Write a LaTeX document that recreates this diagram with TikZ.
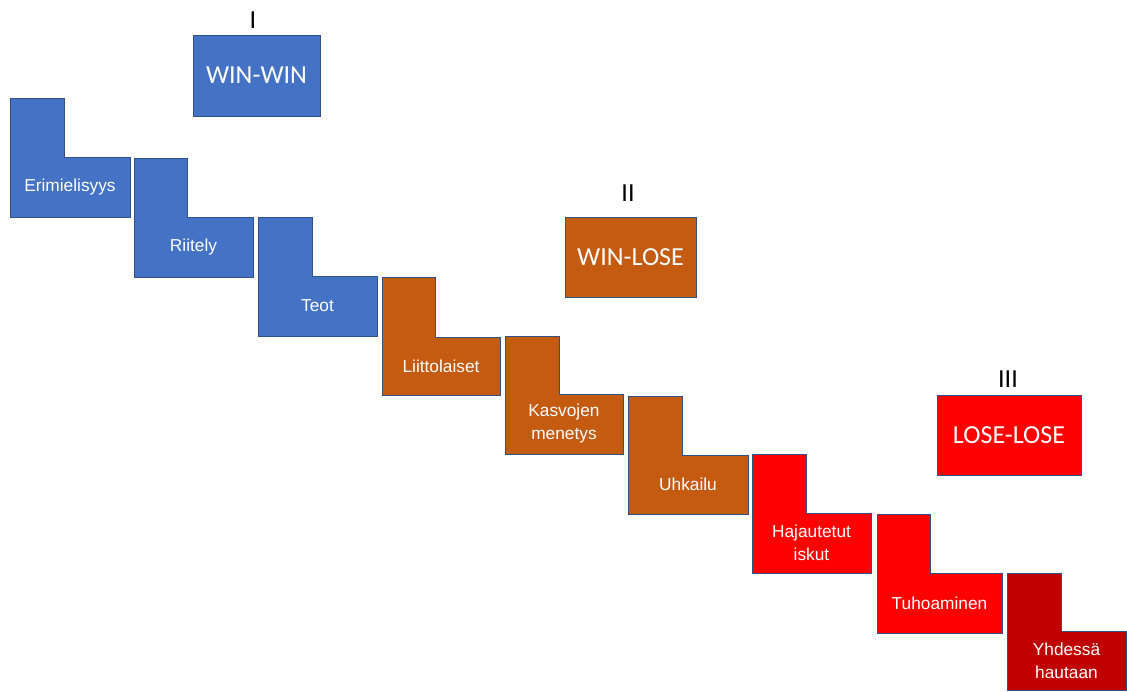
\documentclass[tikz,border=0pt]{standalone}
\usepackage{fontspec}
\setmainfont{Liberation Sans}
\newfontfamily\calibri{Carlito}
\definecolor{cblue}{HTML}{4472C4}
\definecolor{corange}{HTML}{C55A11}
\definecolor{cred}{HTML}{FF0000}
\definecolor{cdred}{HTML}{C00000}
\definecolor{cedge}{HTML}{2F528F}
\tikzset{
  steplabel/.style={text=white, font=\fontsize{17.3}{23}\selectfont, align=center, inner sep=0pt},
  outcome/.style={draw=cedge, line width=0.8pt, text=white, font=\calibri\fontsize{26}{30}\selectfont, inner sep=0pt},
  roman/.style={text=black, font=\calibri\fontsize{26}{30}\selectfont, inner sep=0pt},
  lshape/.style={draw=cedge, line width=0.8pt}
}
% name, left, top, right, bottom, notchx, notchy, colour, text
\newcommand\Lstep[9]{%
  \path[lshape, fill=#8] (#2,#3) -- (#6,#3) -- (#6,#7) -- (#4,#7) -- (#4,#5) -- (#2,#5) -- cycle;
  \node[steplabel] (#1) at ({(#2+#4)/2},{(#7+#5)/2}) {#9};
}
\begin{document}
\begin{tikzpicture}[x=1pt, y=-1pt]
\useasboundingbox (0,0) rectangle (1127,691);
\Lstep{s1}{10}{98}{130}{217}{64}{157}{cblue}{Erimielisyys}
\Lstep{s2}{134}{158}{253}{277}{187}{217}{cblue}{Riitely}
\Lstep{s3}{258}{217}{377}{336}{312}{276}{cblue}{Teot}
\Lstep{s4}{382}{277}{500}{395}{435}{337}{corange}{Liittolaiset}
\Lstep{s5}{505}{336}{623}{454}{559}{394}{corange}{Kasvojen\\menetys}
\Lstep{s6}{628}{396}{748}{514}{682}{455}{corange}{Uhkailu}
\Lstep{s7}{752}{454}{871}{573}{806}{513}{cred}{Hajautetut\\iskut}
\Lstep{s8}{877}{514}{1002}{633}{930}{573}{cred}{Tuhoaminen}
\Lstep{s9}{1007}{573}{1126}{690}{1061}{631}{cdred}{Yhdessä\\hautaan}

\node[outcome, fill=cblue, minimum width=127pt, minimum height=81pt] (ww) at (256.5,75.5) {WIN-WIN};
\node[outcome, fill=corange, minimum width=131pt, minimum height=80pt] (wl) at (630.5,257) {WIN-LOSE};
\node[outcome, fill=cred, minimum width=144pt, minimum height=80pt] (ll) at (1009,435) {LOSE-LOSE};

\node[roman] (r1) at (253,20) {I};
\node[roman] (r2) at (628,193) {II};
\node[roman] (r3) at (1008,379) {III};
\end{tikzpicture}
\end{document}
